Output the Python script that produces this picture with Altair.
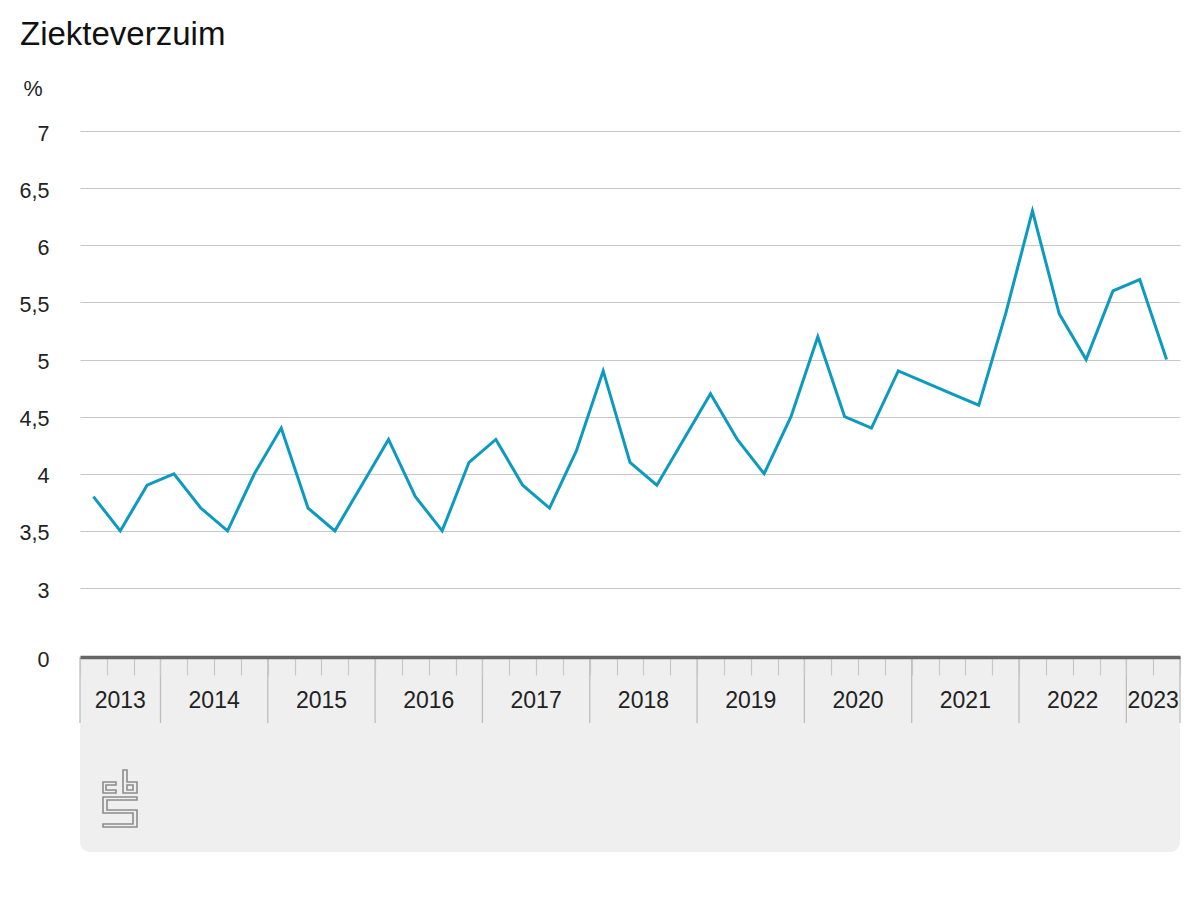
import altair as alt
import pandas as pd

# ---- data ----
years = [2013, 2014, 2015, 2016, 2017, 2018, 2019, 2020, 2021, 2022, 2023]
quarters_per_year = [3, 4, 4, 4, 4, 4, 4, 4, 4, 4, 2]
first_quarter = [2, 1, 1, 1, 1, 1, 1, 1, 1, 1, 1]
values = [
    3.8, 3.5, 3.9,
    4.0, 3.7, 3.5, 4.0,
    4.4, 3.7, 3.5, 3.9,
    4.3, 3.8, 3.5, 4.1,
    4.3, 3.9, 3.7, 4.2,
    4.9, 4.1, 3.9, 4.3,
    4.7, 4.3, 4.0, 4.5,
    5.2, 4.5, 4.4, 4.9,
    4.8, 4.7, 4.6, 5.4,
    6.3, 5.4, 5.0, 5.6,
    5.7, 5.0,
]
y_ticks = [0, 3, 3.5, 4, 4.5, 5, 5.5, 6, 6.5, 7]

# ---- tables built from the arrays ----
periods = []
for y, n, q0 in zip(years, quarters_per_year, first_quarter):
    for k in range(n):
        periods.append(f"{y} {q0 + k}e kwartaal")
df = pd.DataFrame({"periode": periods, "pos": [i + 0.5 for i in range(len(values))], "value": values})

N = len(values)
bounds = [0]
for n in quarters_per_year:
    bounds.append(bounds[-1] + n)
df_bounds = pd.DataFrame({"b": bounds})
df_years = pd.DataFrame({
    "year": [str(y) for y in years],
    "center": [(bounds[i] + bounds[i + 1]) / 2 for i in range(len(years))],
})

W, H = 1100, 526
FONT = "Liberation Sans, Arial, sans-serif"
LINE_COLOR = "#0d9ac1"

xscale = alt.Scale(domain=[0, N], nice=False, zero=False)
yscale = alt.Scale(domain=[0, 3, 7], range=[H, H - 69, 0], nice=False, zero=False)

# one shared x axis (quarter ticks + dark base line), identical in every layer
xaxis = alt.Axis(
    orient="bottom", values=list(range(N + 1)), tickSize=18, labels=False, grid=False,
    domainColor="#666666", domainWidth=3.5, tickColor="#c8c8c8", tickWidth=1.2,
    title=None, zindex=1,
)

# CBS logo outline (decoration), in a 34x57 pixel box -> normalised [-1, 1]
polys = [
    [(13, 12), (0, 12), (0, 23), (13, 23), (13, 20), (3, 20), (3, 15), (13, 15)],
    [(20, 0), (24, 0), (24, 12), (34, 12), (34, 23), (20, 23)],
    [(24, 15), (30, 15), (30, 20), (24, 20)],
    [(0, 27), (34, 27), (34, 30), (4, 30), (4, 40), (34, 40), (34, 57), (0, 57),
     (0, 54), (30, 54), (30, 43), (0, 43)],
]
def _n(v, c):
    return f"{(v - c) / 28.5:.4f}"
logo_path = " ".join(
    "M" + " L".join(f"{_n(px, 17)},{_n(py, 28.5)}" for px, py in p) + " Z" for p in polys
)

one = alt.Data(values=[{}])

bg = alt.Chart(one).mark_rect(
    color="#efefef", cornerRadiusBottomLeft=10, cornerRadiusBottomRight=10
).encode(x=alt.value(0), x2=alt.value(W), y=alt.value(H), y2=alt.value(H + 195))

year_rules = alt.Chart(df_bounds).mark_rule(color="#bdbdbd", strokeWidth=1.3).encode(
    x=alt.X("b:Q", scale=xscale, axis=xaxis),
    y=alt.value(H),
    y2=alt.value(H + 66),
)

year_text = alt.Chart(df_years).mark_text(
    fontSize=23, color="#222222", baseline="alphabetic", align="center", font=FONT
).encode(
    x=alt.X("center:Q", scale=xscale, axis=xaxis),
    y=alt.value(H + 51),
    text="year:N",
)

logo = alt.Chart(one).mark_point(
    shape=logo_path, size=57 * 57, filled=False, stroke="#8c8c8c", strokeWidth=1.6, opacity=1
).encode(x=alt.value(40), y=alt.value(H + 141.5))

line = alt.Chart(df).mark_line(color=LINE_COLOR, strokeWidth=3).encode(
    x=alt.X("pos:Q", scale=xscale, axis=xaxis),
    y=alt.Y(
        "value:Q",
        scale=yscale,
        axis=alt.Axis(
            values=y_ticks, labelExpr="replace(toString(datum.value), '.', ',')",
            domain=False, ticks=False, labelPadding=31, labelOffset=3, labelFontSize=21.5,
            labelColor="#222222", labelFont=FONT, grid=True, gridColor="#c8c8c8", gridWidth=1.2,
            title="%", titleAngle=0, titleX=-57, titleY=-36, titleAlign="left",
            titleBaseline="alphabetic", titleFontSize=21.5, titleFontWeight="normal",
            titleColor="#222222", titleFont=FONT, zindex=0,
        ),
    ),
    tooltip=["periode:N", "value:Q"],
)

chart = alt.layer(bg, year_rules, year_text, logo, line).properties(
    width=W,
    height=H,
    title=alt.TitleParams(
        "Ziekteverzuim", anchor="start", frame="group", fontSize=33, fontWeight="normal",
        color="#111111", font=FONT, dx=-60, dy=0, offset=0, baseline="alphabetic",
    ),
    padding={"left": 72, "top": 123, "right": 12, "bottom": 215},
    autosize=alt.AutoSizeParams(type="none"),
).configure(font=FONT).configure_view(stroke=None, strokeWidth=0)

chart.save("out.html", embed_options={"renderer": "svg", "actions": False})
